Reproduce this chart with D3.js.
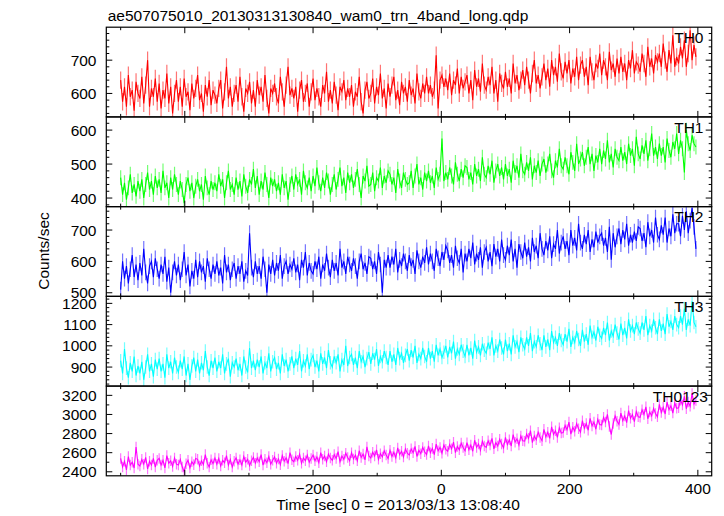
<!DOCTYPE html>
<html><head><meta charset="utf-8">
<script src="https://cdn.jsdelivr.net/npm/d3@7"></script>
<style>body{margin:0;background:#fff} text{font-family:"Liberation Sans",Arial,Helvetica,sans-serif;font-size:15.5px;fill:#000}</style>
</head><body><svg id="c" width="724" height="516"></svg>
<script>
const title = "ae507075010_20130313130840_wam0_trn_4band_long.qdp";
const xLabel = "Time [sec] 0 = 2013/03/13 13:08:40";
const yLabel = "Counts/sec";
const bandNames = ["TH0", "TH1", "TH2", "TH3", "TH0123"];
const bandColors = ["#ff0000", "#00ff00", "#0000ff", "#00ffff", "#ff00ff"];
const timeStart = -500, timeStep = 3;
// estimated half-length of the error bars (counts/sec) in each band
const bandErrors = [26, 22, 25, 32, 55];

const th0 = [
640,575,620,560,655,590,610,548,635,600,
585,650,570,625,700,560,615,590,645,575,
630,555,610,585,660,570,620,540,600,640,
575,620,560,645,590,605,550,630,585,615,
655,580,600,545,625,590,640,565,610,595,
570,615,640,555,605,680,585,620,560,600,
625,575,650,590,545,615,600,635,570,610,
560,640,595,620,575,655,585,540,615,600,
630,590,570,650,605,560,625,680,595,615,
585,620,545,610,640,575,600,630,560,605,
645,580,615,590,560,625,600,665,575,610,
570,635,595,550,620,605,640,580,615,590,
625,560,605,590,650,575,540,610,635,585,
600,645,570,620,595,660,585,615,555,630,
590,625,650,580,610,565,635,600,620,575,
640,595,615,570,660,605,585,630,600,650,
600,625,590,610,715,555,640,655,620,645,
610,660,595,640,625,675,600,650,615,635,
655,600,640,580,670,620,645,605,690,625,
610,650,625,680,600,640,575,660,630,615,
665,620,645,600,690,630,655,610,640,670,
625,680,640,600,660,700,630,655,615,650,
690,640,675,620,700,655,680,635,720,665,
645,695,660,700,630,675,650,710,640,685,
700,650,680,625,710,665,640,690,675,720,
655,700,680,640,725,670,690,650,705,660,
710,665,690,640,700,675,730,660,695,685,
665,720,690,650,740,680,705,660,715,695,
720,680,750,700,665,730,690,775,680,710,
690,740,705,760,680,720,790,700,745,710];

const th1 = [
460,410,445,395,430,470,415,440,405,450,
420,455,400,440,475,425,450,410,465,430,
455,415,480,430,445,400,460,425,470,440,
410,450,425,385,440,460,420,445,400,435,
455,420,440,395,465,430,410,450,425,445,
420,470,435,455,400,445,480,425,440,410,
460,425,450,405,470,435,415,455,440,485,
430,465,410,450,425,475,440,400,460,435,
455,420,445,410,470,430,450,395,440,465,
425,470,440,455,410,480,445,430,460,420,
465,435,490,445,420,460,430,475,450,410,
440,470,425,455,490,435,460,415,475,445,
470,430,455,485,440,400,465,450,495,435,
440,475,420,460,450,490,430,465,445,480,
470,440,460,415,485,450,430,475,455,440,
445,480,430,465,500,440,460,425,475,450,
480,445,465,430,490,455,470,575,450,475,
455,490,465,440,505,470,450,485,460,495,
490,455,475,440,500,465,485,450,520,470,
460,495,470,510,445,480,500,465,490,455,
500,465,485,445,510,475,495,460,530,480,
470,505,480,520,455,495,475,510,465,500,
515,475,500,530,480,460,510,490,545,495,
485,520,495,470,535,505,480,560,500,515,
535,495,520,550,500,530,480,525,505,545,
500,540,515,570,505,530,490,545,520,510,
550,510,535,500,560,525,545,495,580,530,
515,555,530,570,510,545,590,525,550,515,
560,525,550,505,575,540,520,565,545,590,
530,570,545,475,600,560,540,585,560,550];

const th2 = [
510,600,545,585,530,575,620,550,590,540,
595,555,640,565,530,585,600,550,610,575,
545,590,560,615,535,580,500,565,600,555,
590,540,575,630,555,590,520,570,545,605,
550,600,565,585,535,610,575,545,590,560,
600,555,580,530,620,565,590,540,575,595,
545,585,560,600,535,570,555,690,580,550,
600,560,585,545,615,575,500,590,560,605,
555,595,570,620,545,585,600,560,590,575,
610,565,590,540,605,580,630,555,595,570,
560,600,575,615,545,590,570,625,580,550,
605,570,595,555,640,580,600,560,615,590,
570,610,585,545,600,625,575,595,560,615,
610,575,600,560,630,590,500,605,580,620,
580,615,590,640,565,605,585,625,600,570,
620,585,605,560,635,600,580,615,595,645,
590,625,600,570,640,610,585,630,605,650,
635,595,620,580,650,610,595,640,565,625,
600,640,610,660,590,625,605,645,580,630,
645,600,630,585,655,615,640,600,670,620,
605,650,620,670,600,640,580,655,630,610,
660,615,645,600,675,630,650,610,690,640,
620,665,635,680,610,655,640,700,625,660,
680,640,665,620,700,650,675,635,720,660,
640,685,655,700,630,670,645,695,660,680,
690,650,675,630,710,605,690,645,680,705,
655,700,670,720,650,685,660,695,665,710,
705,665,690,645,725,680,700,660,740,685,
670,715,685,740,660,705,680,750,690,720,
720,680,745,700,760,690,730,770,710,640];

const th3 = [
930,870,985,895,850,920,880,950,860,905,
870,925,840,900,960,880,915,855,935,890,
940,880,915,850,960,895,925,870,945,900,
875,930,890,950,860,915,840,905,945,880,
935,870,920,885,975,900,860,930,895,945,
880,925,895,960,870,915,940,855,920,900,
940,885,915,860,950,900,875,990,895,930,
885,935,900,950,870,920,895,965,880,925,
945,890,920,870,960,905,935,880,915,950,
895,940,910,975,880,930,905,960,890,935,
955,900,930,880,965,915,945,895,980,920,
900,950,920,960,880,935,910,1000,905,945,
960,910,945,895,975,925,950,900,940,970,
915,965,935,985,905,950,925,975,945,910,
975,925,960,910,990,940,965,920,955,985,
930,980,945,1000,920,960,940,990,950,925,
990,940,975,925,1005,955,985,945,970,1000,
945,995,965,1020,940,985,960,1005,975,950,
1005,955,990,940,1025,970,995,955,1010,980,
965,1015,985,1040,955,1000,975,1030,990,960,
1030,975,1010,960,1050,995,1020,970,1040,1005,
985,1040,1000,1060,975,1020,995,1050,1010,980,
1050,995,1030,980,1070,1015,1040,1000,1060,1025,
1005,1055,1020,1080,995,1040,1015,1070,1030,1000,
1075,1020,1055,1005,1095,1040,1065,1025,1090,1050,
1035,1085,1050,1110,1025,1070,1045,1100,1060,1030,
1105,1050,1085,1035,1125,1070,1095,1055,1110,1080,
1060,1110,1075,1140,1050,1095,1070,1125,1085,1055,
1125,1070,1105,1055,1150,1090,1115,1075,1140,1100,
1085,1140,1100,1175,1075,1125,1095,1210,1110,1090];

const th0123 = [
2540,2450,2510,2420,2560,2470,2500,2440,2660,2480,
2460,2530,2480,2550,2430,2510,2470,2540,2450,2520,
2540,2470,2520,2440,2570,2490,2515,2455,2545,2480,
2470,2530,2450,2400,2485,2520,2440,2505,2475,2540,
2530,2460,2515,2475,2580,2490,2450,2525,2485,2545,
2480,2540,2460,2520,2495,2570,2470,2530,2450,2510,
2545,2480,2525,2470,2560,2500,2530,2465,2515,2550,
2490,2545,2505,2580,2470,2530,2495,2560,2480,2520,
2555,2490,2535,2475,2570,2510,2545,2485,2600,2525,
2505,2560,2520,2585,2490,2545,2515,2575,2500,2540,
2575,2515,2555,2495,2600,2530,2565,2505,2585,2545,
2520,2580,2540,2610,2505,2565,2530,2595,2550,2515,
2600,2535,2575,2515,2620,2550,2585,2525,2660,2565,
2545,2605,2565,2630,2530,2590,2555,2620,2575,2540,
2625,2560,2605,2545,2650,2580,2615,2555,2640,2595,
2575,2640,2600,2665,2560,2625,2590,2655,2610,2580,
2670,2600,2645,2580,2690,2620,2655,2595,2680,2635,
2615,2685,2640,2710,2600,2665,2630,2700,2655,2620,
2705,2630,2680,2615,2730,2655,2690,2625,2720,2670,
2655,2725,2680,2750,2640,2705,2670,2740,2690,2650,
2760,2685,2735,2670,2790,2710,2745,2680,2775,2725,
2720,2795,2750,2830,2705,2775,2735,2815,2760,2725,
2845,2765,2815,2750,2870,2790,2830,2760,2860,2805,
2810,2885,2840,2920,2795,2865,2825,2905,2850,2815,
2935,2855,2905,2835,2960,2880,2920,2845,2950,2895,
2890,2970,2920,3000,2875,2790,2905,2985,2930,2895,
3015,2935,2985,2915,3040,2960,3000,2925,3030,2975,
2970,3050,3000,3080,2955,3025,2985,3065,3010,2975,
3105,3020,3075,3005,3130,3050,3090,3015,3120,3065,
3070,3150,3100,3190,3060,3130,3085,3220,3110,3145];

const series = [th0, th1, th2, th3, th0123];
const yRanges = [[529.5, 799], [374.7, 638.8], [488.5, 774.6], [810.5, 1233], [2358, 3297]];
const yMajorStep = [100, 100, 100, 100, 200];
const yMinorStep = [20, 20, 20, 20, 100];
const xMajorTicks = [-400, -200, 0, 200, 400];
const xMinorTicks = [-500, -300, -100, 100, 300];
const xRange = [-522.4, 421.6];

const svg = d3.select("#c");
const L = 106.3, R = 711.7, T = 27.2, B = 475.8;
const ph = (B - T) / 5;
const x = d3.scaleLinear().domain(xRange).range([L, R]);
const majLen = 6, minLen = 3;

series.forEach((vals, i) => {
  const top = T + i * ph, bot = top + ph;
  const y = d3.scaleLinear().domain(yRanges[i]).range([bot, top]);
  const cid = "clip" + i;
  svg.append("clipPath").attr("id", cid).append("rect")
    .attr("x", L).attr("y", top).attr("width", R - L).attr("height", ph);
  const pts = vals.map((v, j) => [timeStart + j * timeStep, v]);
  const line = d3.line().x(d => x(d[0])).y(d => y(d[1]));
  const g = svg.append("g").attr("clip-path", `url(#${cid})`);
  g.append("g").attr("stroke", bandColors[i]).attr("stroke-width", 1.2).attr("stroke-opacity", 0.55)
    .selectAll("line").data(pts).join("line")
    .attr("x1", d => x(d[0])).attr("x2", d => x(d[0]))
    .attr("y1", d => y(d[1] - bandErrors[i])).attr("y2", d => y(d[1] + bandErrors[i]));
  g.append("path").attr("d", line(pts)).attr("fill", "none")
    .attr("stroke", bandColors[i]).attr("stroke-width", 1.1);

  const ax = svg.append("g").attr("stroke", "#000").attr("stroke-width", 1);
  const [lo, hi] = yRanges[i];
  const minors = d3.range(Math.ceil(lo / yMinorStep[i]) * yMinorStep[i], hi, yMinorStep[i]);
  minors.forEach(v => {
    const isMaj = Math.abs(v / yMajorStep[i] - Math.round(v / yMajorStep[i])) < 1e-9;
    const len = isMaj ? majLen : minLen;
    const yy = y(v);
    ax.append("line").attr("x1", L).attr("x2", L + len).attr("y1", yy).attr("y2", yy);
    ax.append("line").attr("x1", R - len).attr("x2", R).attr("y1", yy).attr("y2", yy);
    if (isMaj) {
      svg.append("text").attr("x", 96.5).attr("y", yy).attr("dy", "0.36em")
        .attr("text-anchor", "end").text(v);
    }
  });
  xMajorTicks.forEach(t => {
    ax.append("line").attr("x1", x(t)).attr("x2", x(t)).attr("y1", top).attr("y2", top + majLen);
    ax.append("line").attr("x1", x(t)).attr("x2", x(t)).attr("y1", bot - majLen).attr("y2", bot);
  });
  xMinorTicks.forEach(t => {
    ax.append("line").attr("x1", x(t)).attr("x2", x(t)).attr("y1", top).attr("y2", top + minLen);
    ax.append("line").attr("x1", x(t)).attr("x2", x(t)).attr("y1", bot - minLen).attr("y2", bot);
  });
  svg.append("rect").attr("x", L).attr("y", top).attr("width", R - L).attr("height", ph)
    .attr("fill", "none").attr("stroke", "#000").attr("stroke-width", 1.2);
  svg.append("text").attr("x", i === 4 ? 708 : 703.5).attr("y", top + 15.8)
    .attr("text-anchor", "end").text(bandNames[i]);
});

xMajorTicks.forEach(t => {
  svg.append("text").attr("x", x(t)).attr("y", 493.5).attr("text-anchor", "middle")
    .text(t < 0 ? "\u2212" + Math.abs(t) : t);
});
svg.append("text").attr("x", 107.7).attr("y", 20.6).text(title);
svg.append("text").attr("x", 398).attr("y", 509.5).attr("text-anchor", "middle").text(xLabel);
svg.append("text").attr("transform", "translate(49,251) rotate(-90)")
  .attr("text-anchor", "middle").text(yLabel);
</script></body></html>
